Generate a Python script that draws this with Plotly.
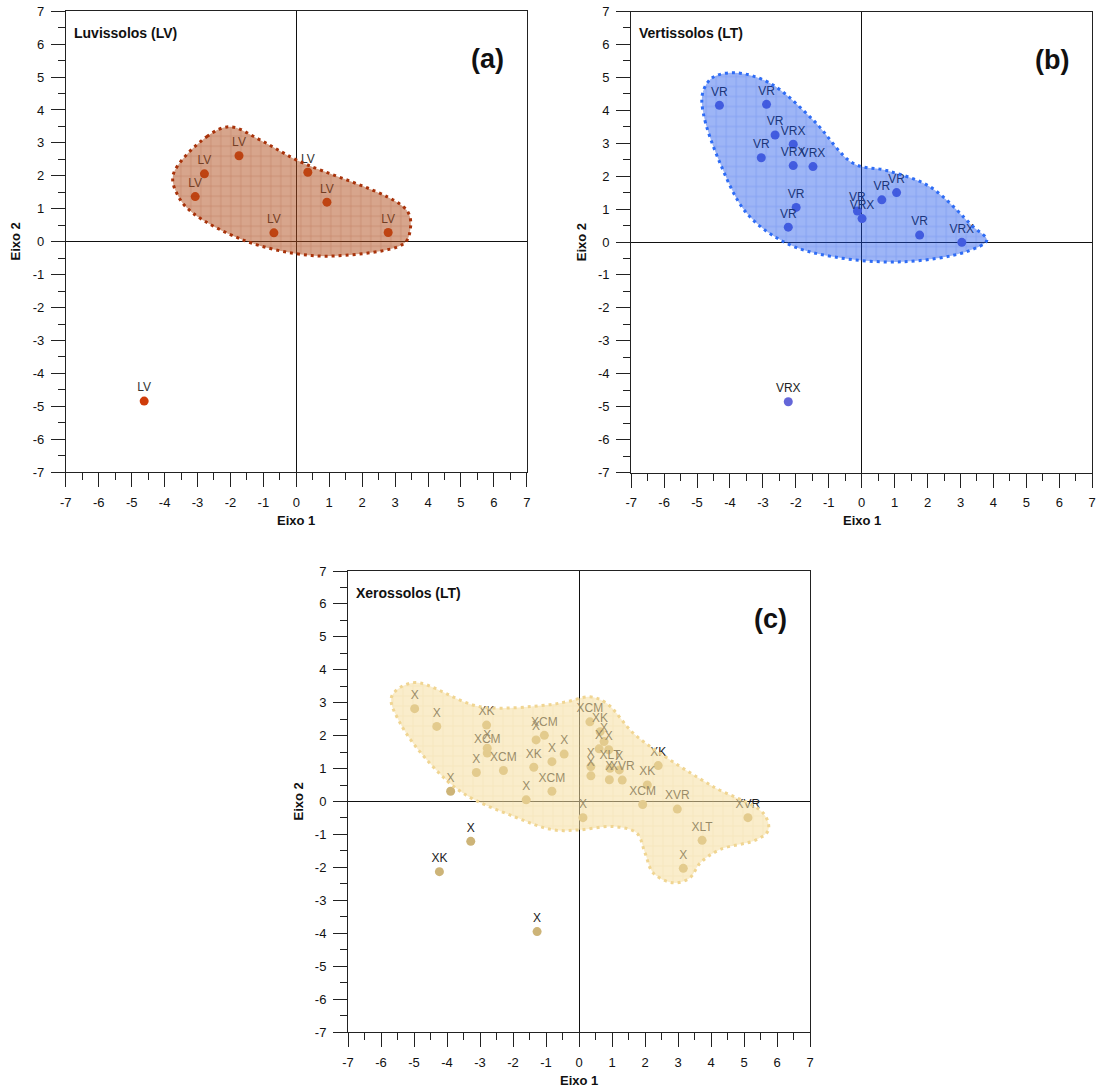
import plotly.graph_objects as go

W, H = 1097, 1088

# ---------------- data ----------------
# Panel (a) Luvissolos
lv_x = [-1.74, -2.79, -3.07, -0.68, 0.35, 0.93, 2.79, -4.62]
lv_y = [2.61, 2.06, 1.37, 0.27, 2.11, 1.20, 0.28, -4.84]
lv_lab = ["LV", "LV", "LV", "LV", "LV", "LV", "LV", "LV"]
lv_hull_x = [-3.74, -2.72, -2.01, -1.10, 0.01, 3.35, 3.45, 3.25, 1.23, -0.09, -1.61, -3.13, -3.58, -3.74]
lv_hull_y = [2.03, 3.19, 3.49, 3.09, 2.48, 0.96, 0.30, -0.07, -0.43, -0.35, 0.05, 0.86, 1.37, 2.03]

# Panel (b) Vertissolos
vr_x = [-4.32, -2.89, -2.63, -2.08, -3.05, -2.08, -1.48, -1.99, -2.23, -0.13, 0.01, 0.61, 1.06, 1.76, 3.04, -2.23]
vr_y = [4.15, 4.18, 3.25, 2.97, 2.56, 2.32, 2.29, 1.05, 0.45, 0.94, 0.71, 1.28, 1.50, 0.21, -0.01, -4.85]
vr_lab = ["VR", "VR", "VR", "VRX", "VR", "VRX", "VRX", "VR", "VR", "VR", "VRX", "VR", "VR", "VR", "VRX", "VRX"]
vr_hull_x = [-4.83, -4.55, -3.85, -2.78, -1.47, -0.26, 0.76, 2.07, 3.39, 3.80, 3.19, 1.26, -0.86, -2.28, -3.49, -4.30, -4.81, -4.83]
vr_hull_y = [4.52, 4.98, 5.14, 4.82, 3.70, 2.39, 2.17, 1.68, 0.46, 0.06, -0.29, -0.60, -0.45, -0.04, 0.87, 2.39, 3.91, 4.52]

# Panel (c) Xerossolos
xe_x = [-4.98, -4.31, -2.80, -2.78, -2.78, -3.11, -2.29, -3.89, -1.30, -1.05, -0.45, -0.82, -1.37, -0.82, -1.60,
        0.12, 0.33, 0.64, 0.76, 0.61, 0.90, 0.36, 0.36, 0.94, 0.92, 1.22, 1.31, 2.40, 2.07, 1.93, 2.98, 5.12,
        3.73, 3.16, -3.28, -4.23, -1.27]
xe_y = [2.82, 2.28, 2.32, 1.62, 1.47, 0.88, 0.94, 0.31, 1.87, 2.01, 1.44, 1.21, 1.04, 0.31, 0.05,
        -0.49, 2.42, 2.12, 1.82, 1.60, 1.57, 1.06, 0.78, 1.01, 0.66, 0.96, 0.65, 1.09, 0.50, -0.09, -0.23, -0.49,
        -1.18, -2.03, -1.21, -2.13, -3.95]
xe_lab = ["X", "X", "XK", "X", "XCM", "X", "XCM", "X", "X", "XCM", "X", "X", "XK", "XCM", "X",
          "X", "XCM", "XK", "X", "X", "X", "X", "X", "XLT", "X", "X", "XVR", "XK", "XK", "XCM", "XVR", "XVR",
          "XLT", "X", "X", "XK", "X"]
xe_hull_x = [-5.68, -5.02, -3.00, -0.98, -0.37, 0.33, 0.84, 1.65, 2.45, 4.07, 5.58, 5.74, 5.38, 4.27, 3.67, 3.36,
             2.86, 2.25, 2.00, 1.75, 1.04, 0.03, -0.78, -1.99, -3.51, -4.52, -5.42, -5.68]
xe_hull_y = [3.18, 3.61, 2.88, 2.93, 3.03, 3.18, 2.98, 2.07, 1.47, 0.45, -0.35, -0.86, -1.16, -1.46, -1.87, -2.32,
             -2.47, -2.17, -1.56, -0.96, -0.76, -0.86, -0.86, -0.45, 0.25, 1.16, 2.38, 3.18]

ticks = list(range(-7, 8))
tick_text = [str(t) for t in ticks]

FONT = "Arial, Liberation Sans, sans-serif"

panels = [
    dict(x=lv_x, y=lv_y, lab=lv_lab, hx=lv_hull_x, hy=lv_hull_y,
         marker="#CF3C0A", text="#333333",
         fill="rgba(175,75,25,0.5)", fg="rgba(150,45,5,0.55)", line="#A8320A",
         title="Luvissolos (LV)", tag="(a)", ax="", px=(65.8, 526.8), py=(11.2, 472.2)),
    dict(x=vr_x, y=vr_y, lab=vr_lab, hx=vr_hull_x, hy=vr_hull_y,
         marker="#6466D8", text="#222222",
         fill="rgba(22,78,233,0.42)", fg="rgba(20,70,230,0.5)", line="#2E6CF5",
         title="Vertissolos (LT)", tag="(b)", ax="2", px=(631.2, 1092.2), py=(11.5, 472.5)),
    dict(x=xe_x, y=xe_y, lab=xe_lab, hx=xe_hull_x, hy=xe_hull_y,
         marker="#CDB478", text="#222222",
         fill="rgba(245,221,160,0.55)", fg="rgba(232,200,130,0.5)", line="#F0D592",
         title="Xerossolos (LT)", tag="(c)", ax="3", px=(348.0, 810.0), py=(571.0, 1032.0)),
]

fig = go.Figure()
annotations = []
layout = {}

for p in panels:
    xa = "x" + p["ax"]
    ya = "y" + p["ax"]
    fig.add_trace(go.Scatter(
        x=p["x"], y=p["y"], mode="markers+text", text=p["lab"],
        textposition="top center",
        textfont=dict(family=FONT, size=12, color=p["text"]),
        marker=dict(size=9, color=p["marker"]),
        xaxis=xa, yaxis=ya, hoverinfo="skip", cliponaxis=False))
    fig.add_trace(go.Scatter(
        x=p["hx"], y=p["hy"], mode="lines", fill="toself",
        fillcolor=p["fill"],
        fillpattern=dict(shape="+", size=10, solidity=0.12, fgcolor=p["fg"], bgcolor=p["fill"]),
        line=dict(color=p["line"], width=3, dash="3px,4px", shape="spline", smoothing=1.0),
        xaxis=xa, yaxis=ya, hoverinfo="skip"))

    x0, x1 = p["px"]
    y0, y1 = p["py"]
    axis_common = dict(
        range=[-7, 7], tickmode="array", tickvals=ticks, ticktext=tick_text,
        ticks="outside", ticklen=14, tickwidth=1, tickcolor="#222222",
        minor=dict(dtick=0.5, tick0=0, ticks="outside", ticklen=7, tickwidth=1, tickcolor="#222222"),
        showline=True, linecolor="#222222", linewidth=1, mirror=True,
        showgrid=False, zeroline=True, zerolinecolor="#111111", zerolinewidth=1,
        tickfont=dict(family=FONT, size=13, color="#111111"),
        ticklabelstandoff=4, fixedrange=True, automargin=False,
    )
    layout["xaxis" + p["ax"]] = dict(axis_common, domain=[x0 / W, x1 / W], anchor=ya)
    layout["yaxis" + p["ax"]] = dict(axis_common, domain=[1 - y1 / H, 1 - y0 / H], anchor=xa)

    cx = (x0 + x1) / 2
    cy = (y0 + y1) / 2
    annotations += [
        dict(text="<b>" + p["title"] + "</b>", x=(x0 + 6) / W, y=1 - (y0 + 22) / H,
             xref="paper", yref="paper", xanchor="left", yanchor="middle", showarrow=False,
             font=dict(family=FONT, size=14, color="#111111")),
        dict(text="<b>" + p["tag"] + "</b>", x=(x1 - 21) / W, y=1 - (y0 + 48) / H,
             xref="paper", yref="paper", xanchor="right", yanchor="middle", showarrow=False,
             font=dict(family=FONT, size=27, color="#111111")),
        dict(text="<b>Eixo 1</b>", x=cx / W, y=1 - (y1 + 48) / H,
             xref="paper", yref="paper", xanchor="center", yanchor="middle", showarrow=False,
             font=dict(family=FONT, size=13, color="#111111")),
        dict(text="<b>Eixo 2</b>", x=(x0 - 50) / W, y=1 - cy / H, textangle=-90,
             xref="paper", yref="paper", xanchor="center", yanchor="middle", showarrow=False,
             font=dict(family=FONT, size=13, color="#111111")),
    ]

fig.update_layout(
    width=W, height=H, margin=dict(l=0, r=0, t=0, b=0),
    paper_bgcolor="white", plot_bgcolor="white", showlegend=False,
    annotations=annotations, **layout)

fig.write_html("out.html", config={"displayModeBar": False, "staticPlot": True},
               post_script="document.body.style.margin='0px';document.body.style.overflow='hidden';")
